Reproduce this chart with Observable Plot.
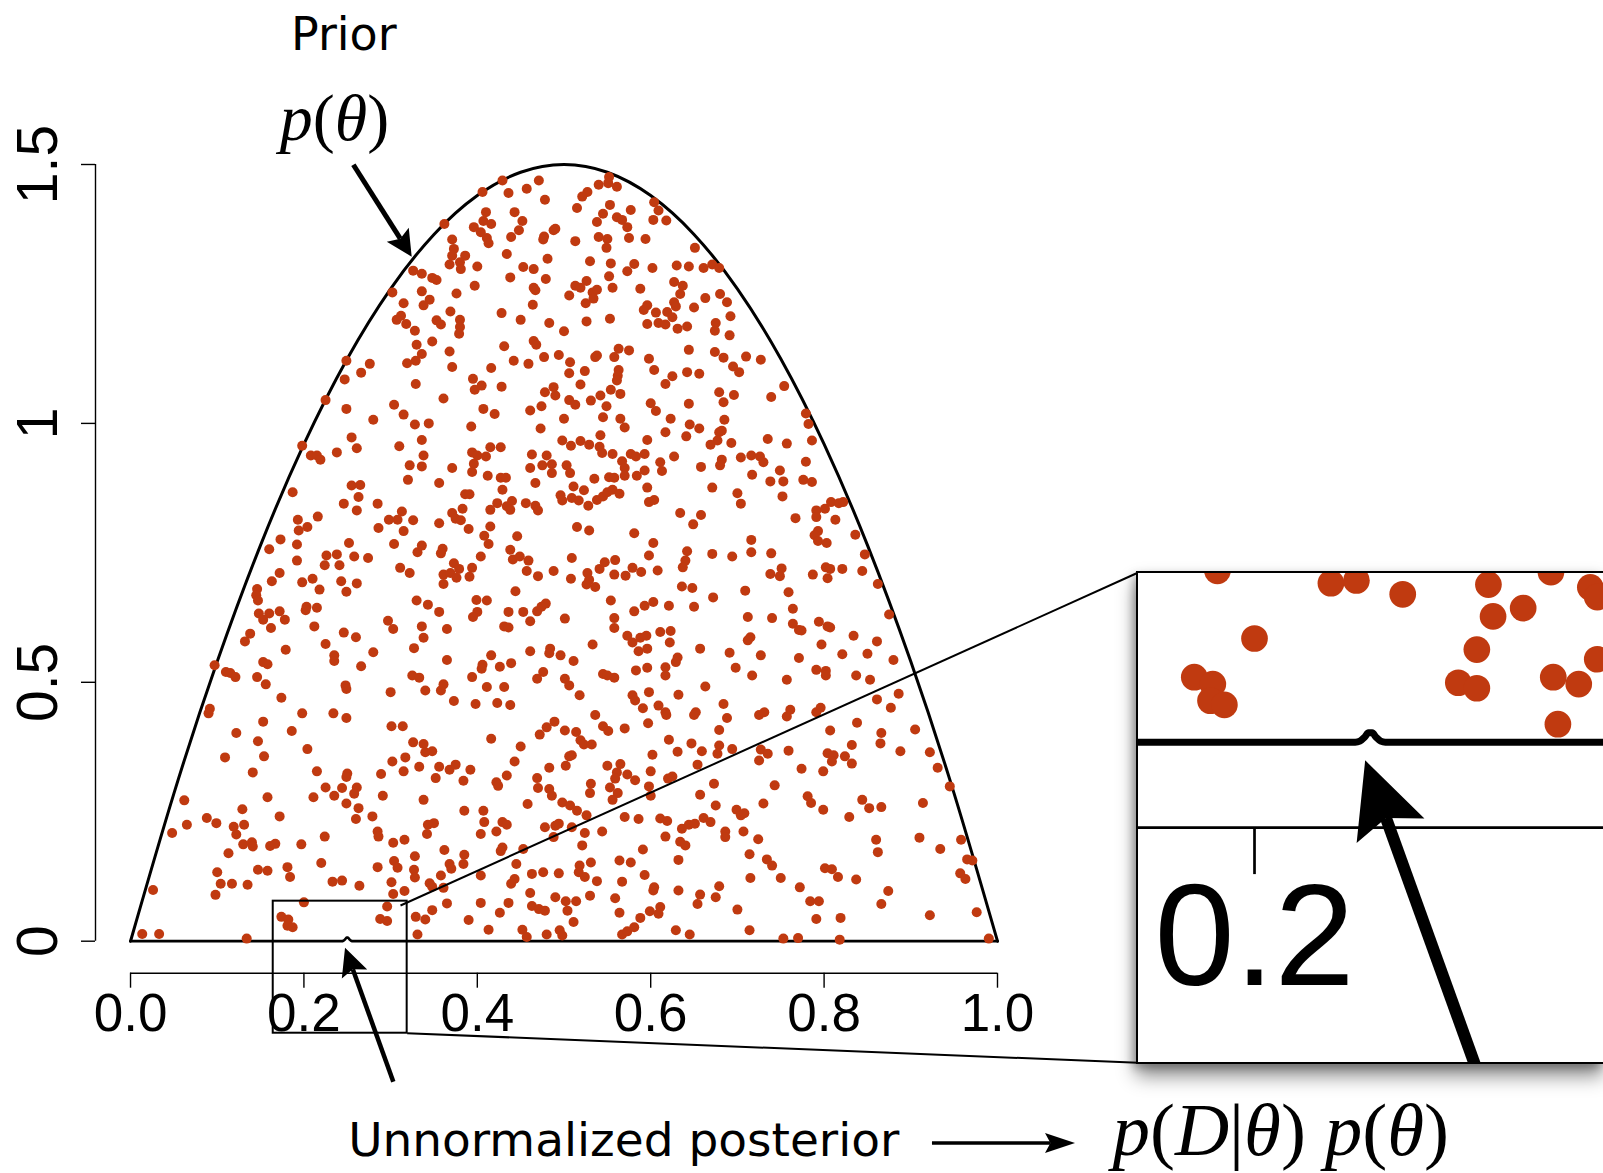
<!DOCTYPE html>
<html><head><meta charset="utf-8">
<script src="https://cdn.jsdelivr.net/npm/d3@7"></script>
<script src="https://cdn.jsdelivr.net/npm/@observablehq/plot@0.6"></script>
<style>
html,body{margin:0;padding:0;background:#fff;width:1603px;height:1173px;overflow:hidden}
#wrap{position:relative;width:1603px;height:1173px;overflow:hidden}
#main{position:absolute;left:0;top:0}
#inset{position:absolute;left:1136px;top:571px;width:465px;height:489px;border:2px solid #000;border-right:none;background:#fff;overflow:hidden;box-shadow:0 12px 18px rgba(0,0,0,0.45),-3px 4px 8px rgba(0,0,0,0.25)}
</style></head><body><div id="wrap"><div id="main"></div><div id="inset"></div></div>
<script>
// ---------- data ----------
const priorTheta   = [0,0.05,0.1,0.15,0.2,0.25,0.3,0.35,0.4,0.45,0.5,0.55,0.6,0.65,0.7,0.75,0.8,0.85,0.9,0.95,1];
const priorDensity = [0,0.285,0.54,0.765,0.96,1.125,1.26,1.365,1.44,1.485,1.5,1.485,1.44,1.365,1.26,1.125,0.96,0.765,0.54,0.285,0];
const posteriorTheta   = [0,0.2435,0.2455,0.2475,0.2492,0.2508,0.2525,0.2545,0.2565,1];
const posteriorDensity = [0,0,0.0008,0.0035,0.0068,0.0068,0.0035,0.0008,0,0];
const xTicks = [0,0.2,0.4,0.6,0.8,1];
const yTicks = [0,0.5,1,1.5];
const insetTicks = [0.2];

const samplesUpper = [[0.326,1.295],[0.302,1.253],[0.315,1.232],[0.312,1.208],[0.307,1.200],[0.318,1.192],[0.328,1.179],[0.330,1.152],[0.329,1.121],[0.319,1.116],[0.249,1.121],[0.276,1.115],[0.266,1.098],[0.247,1.085],[0.329,1.076],[0.225,1.045],[0.249,1.028],[0.304,1.036],[0.315,1.017],[0.280,1.007],
[0.429,1.469],[0.471,1.469],[0.457,1.453],[0.406,1.447],[0.436,1.445],[0.478,1.432],[0.362,1.385],[0.410,1.408],[0.443,1.408],[0.407,1.391],[0.416,1.385],[0.452,1.391],[0.396,1.379],[0.448,1.373],[0.404,1.369],[0.411,1.358],[0.439,1.360],[0.413,1.348],[0.477,1.361],[0.488,1.373],[0.490,1.376],[0.476,1.355],[0.371,1.355],[0.373,1.337],[0.371,1.324],[0.386,1.324],[0.368,1.307],[0.380,1.311],[0.381,1.298],[0.400,1.303],[0.434,1.327],[0.481,1.318],[0.453,1.302],[0.465,1.298],[0.438,1.282],[0.479,1.279],[0.348,1.281],[0.353,1.277],[0.336,1.289],[0.465,1.262],[0.467,1.257],[0.397,1.266],[0.376,1.251],[0.336,1.255],[0.345,1.239],[0.338,1.228],[0.464,1.229],[0.369,1.216],[0.428,1.213],[0.353,1.199],[0.358,1.191],[0.380,1.200],[0.380,1.186],[0.379,1.173],[0.450,1.200],[0.483,1.194],[0.500,1.178],[0.348,1.158],[0.431,1.149],[0.465,1.159],[0.468,1.152],[0.368,1.139],[0.336,1.134],[0.477,1.128],[0.494,1.132],[0.442,1.121],[0.459,1.115],[0.371,1.109],[0.416,1.107],[0.395,1.086],[0.405,1.073],[0.397,1.065],[0.428,1.071],[0.361,1.048],[0.407,1.028],[0.420,1.018],[0.461,1.025],[0.474,1.033],[0.478,1.060],[0.488,1.070],[0.490,1.054],[0.507,1.118],[0.506,1.097],[0.524,1.101],[0.519,1.075],[0.506,1.045],[0.513,1.036],[0.531,1.044],[0.536,1.128],[0.538,1.131],[0.558,1.128],[0.563,1.144],[0.575,1.141],[0.563,1.103],[0.562,1.092],[0.561,1.083],[0.554,1.065],[0.542,1.054],[0.549,1.033],[0.565,1.057],[0.545,1.012],[0.500,1.009],[0.552,1.476],[0.551,1.464],[0.540,1.461],[0.561,1.457],[0.527,1.447],[0.521,1.438],[0.515,1.416],[0.553,1.422],[0.545,1.405],[0.577,1.412],[0.561,1.398],[0.567,1.393],[0.573,1.379],[0.538,1.389],[0.540,1.360],[0.550,1.356],[0.549,1.339],[0.575,1.358],[0.513,1.352],[0.594,1.356],[0.604,1.427],[0.609,1.411],[0.603,1.393],[0.618,1.392],[0.651,1.339],[0.530,1.313],[0.554,1.309],[0.573,1.294],[0.581,1.308],[0.552,1.284],[0.602,1.300],[0.630,1.305],[0.644,1.303],[0.661,1.300],[0.526,1.275],[0.513,1.266],[0.519,1.262],[0.506,1.247],[0.533,1.253],[0.538,1.258],[0.534,1.241],[0.525,1.232],[0.556,1.262],[0.588,1.260],[0.627,1.273],[0.637,1.266],[0.634,1.250],[0.627,1.234],[0.629,1.226],[0.596,1.228],[0.592,1.219],[0.606,1.214],[0.619,1.215],[0.625,1.205],[0.650,1.224],[0.663,1.242],[0.526,1.197],[0.553,1.202],[0.596,1.192],[0.609,1.194],[0.617,1.191],[0.631,1.183],[0.642,1.187],[0.644,1.142],[0.598,1.125],[0.604,1.103],[0.642,1.099],[0.656,1.096],[0.625,1.091],[0.617,1.076],[0.600,1.039],[0.606,1.024],[0.644,1.038],[0.623,1.009],[0.565,1.009],
[0.671,1.307],[0.679,1.300],[0.680,1.250],[0.688,1.234],[0.692,1.207],[0.675,1.194],[0.674,1.179],[0.691,1.170],[0.674,1.138],[0.684,1.127],[0.710,1.129],[0.727,1.123],[0.695,1.110],[0.702,1.099],[0.679,1.060],[0.684,1.041],[0.696,1.055],[0.739,1.051],[0.754,1.072],[0.779,1.019],[0.685,1.007]];

const samplesMiddle = [[0.328,0.998],[0.255,0.973],[0.261,0.952],[0.310,0.956],[0.198,0.957],[0.208,0.938],[0.215,0.938],[0.219,0.930],[0.238,0.944],[0.322,0.919],[0.320,0.891],[0.255,0.880],[0.265,0.881],[0.263,0.858],[0.246,0.845],[0.261,0.832],[0.285,0.845],[0.187,0.867],[0.313,0.830],[0.298,0.814],[0.308,0.814],[0.326,0.813],[0.315,0.792],[0.286,0.798],[0.216,0.820],[0.193,0.814],[0.204,0.800],[0.194,0.793],[0.173,0.776],[0.160,0.757],[0.192,0.766],[0.252,0.769],[0.304,0.767],[0.331,0.751],[0.226,0.745],[0.238,0.747],[0.258,0.743],[0.274,0.740],[0.224,0.726],[0.241,0.726],[0.192,0.735],[0.311,0.721],[0.322,0.711],[0.172,0.711],[0.163,0.695],[0.198,0.693],[0.210,0.700],[0.243,0.695],[0.261,0.691],[0.218,0.679],[0.249,0.675],[0.146,0.680],[0.145,0.668],[0.147,0.658],[0.203,0.646],[0.202,0.639],[0.215,0.644],[0.330,0.658],[0.148,0.633],[0.160,0.633],[0.172,0.637],[0.153,0.621],[0.178,0.621],[0.162,0.605],[0.212,0.608],[0.297,0.619],[0.303,0.603],[0.246,0.596],[0.260,0.587],[0.138,0.594],[0.132,0.579],[0.225,0.574],[0.179,0.563],[0.235,0.552],[0.235,0.541],[0.280,0.558],[0.327,0.566],[0.153,0.539],[0.158,0.535],[0.266,0.531],[0.097,0.533],[0.110,0.520],[0.115,0.518],[0.121,0.510],[0.146,0.510],[0.325,0.513],[0.333,0.509],
[0.344,1.000],[0.393,0.994],[0.473,0.990],[0.570,0.992],[0.645,0.998],[0.656,0.990],[0.617,0.983],[0.641,0.975],[0.542,0.977],[0.596,0.968],[0.498,0.967],[0.508,0.957],[0.519,0.966],[0.529,0.959],[0.541,0.955],[0.544,0.943],[0.556,0.941],[0.336,0.968],[0.415,0.954],[0.427,0.954],[0.394,0.944],[0.400,0.938],[0.410,0.936],[0.463,0.940],[0.480,0.938],[0.577,0.941],[0.583,0.936],[0.593,0.941],[0.627,0.936],[0.611,0.925],[0.613,0.908],[0.338,0.938],[0.336,0.917],[0.371,0.914],[0.396,0.922],[0.394,0.906],[0.461,0.914],[0.475,0.919],[0.486,0.921],[0.486,0.904],[0.503,0.919],[0.507,0.904],[0.567,0.927],[0.570,0.914],[0.570,0.899],[0.593,0.909],[0.584,0.899],[0.658,0.916],[0.412,0.899],[0.427,0.895],[0.433,0.895],[0.535,0.893],[0.552,0.896],[0.558,0.895],[0.356,0.885],[0.467,0.885],[0.511,0.878],[0.523,0.871],[0.496,0.861],[0.498,0.851],[0.509,0.856],[0.517,0.851],[0.528,0.841],[0.538,0.852],[0.545,0.859],[0.550,0.867],[0.556,0.872],[0.564,0.864],[0.596,0.876],[0.598,0.848],[0.604,0.852],[0.386,0.863],[0.391,0.863],[0.429,0.872],[0.423,0.846],[0.434,0.840],[0.440,0.850],[0.438,0.833],[0.456,0.846],[0.467,0.841],[0.470,0.832],[0.415,0.833],[0.383,0.835],[0.371,0.827],[0.375,0.816],[0.381,0.813],[0.356,0.807],[0.390,0.796],[0.415,0.801],[0.408,0.783],[0.446,0.782],[0.413,0.767],[0.515,0.800],[0.529,0.793],[0.634,0.827],[0.658,0.823],[0.649,0.805],[0.581,0.788],[0.603,0.769],[0.336,0.764],[0.360,0.758],[0.358,0.749],[0.438,0.756],[0.441,0.737],[0.449,0.743],[0.459,0.735],[0.404,0.743],[0.373,0.730],[0.379,0.719],[0.394,0.721],[0.361,0.708],[0.369,0.711],[0.361,0.690],[0.376,0.702],[0.391,0.704],[0.457,0.715],[0.470,0.705],[0.488,0.715],[0.509,0.740],[0.508,0.700],[0.527,0.711],[0.529,0.698],[0.526,0.689],[0.536,0.684],[0.541,0.719],[0.547,0.732],[0.559,0.736],[0.558,0.708],[0.571,0.706],[0.579,0.721],[0.589,0.713],[0.598,0.745],[0.608,0.716],[0.642,0.753],[0.640,0.735],[0.637,0.722],[0.636,0.685],[0.648,0.682],[0.444,0.676],[0.399,0.659],[0.411,0.658],[0.343,0.650],[0.356,0.636],[0.400,0.636],[0.395,0.626],[0.436,0.636],[0.453,0.636],[0.469,0.637],[0.474,0.646],[0.479,0.652],[0.461,0.618],[0.501,0.623],[0.554,0.658],[0.558,0.624],[0.558,0.605],[0.581,0.637],[0.593,0.648],[0.603,0.655],[0.621,0.648],[0.650,0.646],[0.336,0.608],[0.338,0.586],[0.365,0.603],[0.431,0.608],[0.436,0.606],[0.573,0.590],[0.579,0.577],[0.588,0.586],[0.595,0.590],[0.586,0.560],[0.596,0.565],[0.611,0.597],[0.623,0.599],[0.622,0.577],[0.657,0.565],[0.533,0.573],[0.461,0.560],[0.484,0.565],[0.483,0.556],[0.496,0.552],[0.511,0.541],[0.416,0.552],[0.406,0.534],[0.405,0.526],[0.426,0.530],[0.439,0.537],[0.365,0.543],[0.476,0.520],[0.469,0.507],[0.394,0.510],[0.545,0.516],[0.550,0.513],[0.558,0.509],[0.583,0.523],[0.596,0.528],[0.617,0.529],[0.617,0.513],[0.631,0.548],[0.629,0.539],[0.501,0.507],
[0.782,0.999],[0.679,0.983],[0.682,0.986],[0.677,0.967],[0.669,0.959],[0.693,0.962],[0.735,0.970],[0.757,0.961],[0.786,0.967],[0.704,0.934],[0.716,0.938],[0.726,0.936],[0.730,0.925],[0.682,0.930],[0.680,0.919],[0.779,0.926],[0.749,0.909],[0.717,0.901],[0.738,0.888],[0.753,0.888],[0.776,0.891],[0.786,0.887],[0.671,0.876],[0.700,0.865],[0.704,0.845],[0.752,0.859],[0.791,0.832],[0.791,0.819],[0.801,0.835],[0.808,0.848],[0.817,0.846],[0.822,0.848],[0.767,0.817],[0.813,0.814],[0.793,0.792],[0.789,0.784],[0.793,0.773],[0.803,0.769],[0.836,0.785],[0.716,0.775],[0.716,0.751],[0.739,0.749],[0.671,0.748],[0.694,0.743],[0.847,0.747],[0.751,0.720],[0.738,0.709],[0.749,0.705],[0.802,0.722],[0.807,0.719],[0.821,0.719],[0.787,0.708],[0.804,0.701],[0.844,0.715],[0.862,0.690],[0.709,0.677],[0.759,0.674],[0.672,0.664],[0.764,0.642],[0.875,0.631],[0.712,0.626],[0.740,0.624],[0.764,0.613],[0.771,0.601],[0.774,0.600],[0.794,0.617],[0.804,0.608],[0.807,0.606],[0.834,0.590],[0.861,0.579],[0.715,0.587],[0.712,0.581],[0.691,0.557],[0.727,0.552],[0.771,0.547],[0.797,0.573],[0.821,0.554],[0.850,0.555],[0.880,0.543],[0.698,0.528],[0.717,0.513],[0.791,0.524],[0.802,0.522],[0.802,0.513],[0.837,0.513],[0.757,0.505],[0.853,0.505]];

const samplesLower = [[0.156,0.496],[0.248,0.494],[0.249,0.487],[0.300,0.481],[0.174,0.470],[0.0915,0.449],[0.090,0.440],[0.198,0.440],[0.234,0.440],[0.249,0.431],[0.153,0.424],[0.122,0.402],[0.186,0.406],[0.301,0.415],[0.314,0.415],[0.147,0.386],[0.204,0.371],[0.109,0.355],[0.154,0.357],[0.326,0.384],[0.317,0.355],[0.302,0.347],[0.333,0.337],[0.141,0.326],[0.215,0.328],[0.250,0.324],[0.249,0.317],[0.289,0.323],[0.315,0.328],[0.062,0.272],[0.158,0.278],[0.211,0.278],[0.225,0.297],[0.235,0.281],[0.244,0.296],[0.261,0.297],[0.258,0.285],[0.249,0.266],[0.263,0.257],[0.291,0.281],[0.129,0.255],[0.172,0.241],[0.279,0.241],[0.260,0.236],[0.088,0.238],[0.099,0.228],[0.119,0.221],[0.131,0.225],[0.065,0.225],[0.048,0.209],[0.122,0.206],[0.285,0.212],[0.286,0.202],[0.224,0.202],[0.130,0.187],[0.140,0.191],[0.141,0.183],[0.161,0.184],[0.167,0.188],[0.197,0.187],[0.303,0.190],[0.316,0.196],[0.113,0.170],[0.328,0.164],[0.220,0.151],[0.304,0.155],[0.308,0.142],[0.285,0.143],[0.327,0.138],[0.147,0.138],[0.158,0.136],[0.181,0.143],[0.100,0.133],[0.104,0.111],[0.117,0.111],[0.135,0.109],[0.026,0.099],[0.098,0.0895],[0.0135,0.014],[0.033,0.014],[0.134,0.005],
[0.340,0.484],[0.358,0.484],[0.361,0.496],[0.411,0.491],[0.431,0.491],[0.506,0.494],[0.663,0.492],[0.518,0.475],[0.579,0.475],[0.582,0.465],[0.598,0.481],[0.632,0.476],[0.373,0.464],[0.398,0.458],[0.423,0.460],[0.438,0.456],[0.591,0.450],[0.609,0.455],[0.617,0.442],[0.618,0.437],[0.652,0.442],[0.650,0.437],[0.536,0.437],[0.489,0.424],[0.480,0.413],[0.472,0.399],[0.501,0.407],[0.514,0.404],[0.545,0.415],[0.551,0.406],[0.570,0.411],[0.597,0.421],[0.416,0.391],[0.519,0.388],[0.523,0.380],[0.532,0.380],[0.621,0.389],[0.647,0.382],[0.659,0.367],[0.631,0.366],[0.338,0.381],[0.340,0.365],[0.348,0.367],[0.450,0.376],[0.509,0.359],[0.506,0.357],[0.602,0.360],[0.443,0.347],[0.483,0.335],[0.502,0.339],[0.550,0.339],[0.565,0.342],[0.561,0.326],[0.573,0.322],[0.559,0.314],[0.582,0.311],[0.600,0.328],[0.620,0.314],[0.625,0.318],[0.654,0.341],[0.356,0.337],[0.368,0.331],[0.375,0.341],[0.392,0.331],[0.352,0.315],[0.384,0.310],[0.422,0.307],[0.424,0.300],[0.434,0.320],[0.469,0.315],[0.531,0.304],[0.530,0.286],[0.553,0.297],[0.562,0.286],[0.556,0.273],[0.598,0.299],[0.600,0.281],[0.470,0.296],[0.483,0.294],[0.486,0.281],[0.657,0.283],[0.338,0.273],[0.458,0.265],[0.498,0.268],[0.507,0.262],[0.515,0.252],[0.526,0.243],[0.570,0.240],[0.586,0.236],[0.611,0.237],[0.619,0.232],[0.661,0.238],[0.636,0.217],[0.644,0.225],[0.651,0.227],[0.385,0.252],[0.407,0.252],[0.408,0.230],[0.404,0.207],[0.422,0.212],[0.429,0.230],[0.434,0.225],[0.343,0.225],[0.350,0.228],[0.342,0.207],[0.478,0.220],[0.490,0.223],[0.494,0.227],[0.509,0.220],[0.488,0.201],[0.524,0.209],[0.544,0.212],[0.617,0.202],[0.521,0.185],[0.591,0.177],[0.634,0.192],[0.640,0.185],[0.362,0.176],[0.385,0.167],[0.384,0.149],[0.368,0.149],[0.370,0.140],[0.429,0.181],[0.427,0.174],[0.453,0.178],[0.445,0.149],[0.564,0.156],[0.577,0.152],[0.531,0.152],[0.518,0.146],[0.517,0.133],[0.524,0.124],[0.538,0.116],[0.593,0.128],[0.632,0.157],[0.358,0.127],[0.361,0.103],[0.404,0.127],[0.443,0.120],[0.439,0.111],[0.463,0.130],[0.476,0.133],[0.494,0.131],[0.567,0.115],[0.604,0.104],[0.603,0.098],[0.632,0.098],[0.461,0.093],[0.490,0.085],[0.502,0.077],[0.514,0.077],[0.504,0.059],[0.530,0.088],[0.559,0.083],[0.657,0.090],[0.654,0.072],[0.365,0.073],[0.404,0.074],[0.436,0.074],[0.463,0.068],[0.471,0.062],[0.478,0.059],[0.564,0.055],[0.599,0.058],[0.611,0.066],[0.609,0.053],[0.588,0.045],[0.390,0.041],[0.426,0.055],[0.511,0.037],[0.413,0.022],[0.452,0.022],[0.457,0.008],[0.480,0.013],[0.495,0.021],[0.498,0.011],[0.567,0.013],[0.573,0.019],[0.581,0.027],[0.629,0.021],[0.645,0.013],
[0.684,0.458],[0.688,0.431],[0.725,0.437],[0.731,0.442],[0.757,0.434],[0.761,0.447],[0.791,0.442],[0.796,0.451],[0.861,0.467],[0.877,0.451],[0.886,0.478],[0.838,0.422],[0.807,0.407],[0.866,0.402],[0.865,0.382],[0.905,0.409],[0.832,0.379],[0.888,0.367],[0.922,0.365],[0.679,0.408],[0.679,0.378],[0.677,0.362],[0.694,0.371],[0.727,0.370],[0.735,0.362],[0.725,0.349],[0.759,0.368],[0.804,0.363],[0.811,0.359],[0.809,0.347],[0.824,0.357],[0.832,0.343],[0.774,0.333],[0.799,0.328],[0.931,0.335],[0.945,0.299],[0.673,0.304],[0.743,0.301],[0.675,0.262],[0.730,0.266],[0.781,0.280],[0.785,0.267],[0.799,0.254],[0.844,0.273],[0.852,0.257],[0.866,0.259],[0.914,0.267],[0.829,0.240],[0.699,0.254],[0.704,0.243],[0.708,0.247],[0.669,0.230],[0.686,0.212],[0.686,0.201],[0.707,0.212],[0.724,0.197],[0.860,0.196],[0.862,0.172],[0.910,0.200],[0.934,0.178],[0.958,0.196],[0.714,0.168],[0.734,0.158],[0.740,0.146],[0.965,0.158],[0.971,0.156],[0.957,0.131],[0.963,0.120],[0.801,0.141],[0.809,0.139],[0.816,0.124],[0.837,0.119],[0.715,0.122],[0.750,0.122],[0.679,0.106],[0.675,0.085],[0.772,0.104],[0.874,0.097],[0.784,0.077],[0.794,0.077],[0.866,0.072],[0.700,0.061],[0.922,0.050],[0.976,0.056],[0.791,0.043],[0.819,0.045],[0.714,0.021],[0.753,0.005],[0.770,0.006],[0.818,0.003],[0.990,0.005]];

const samplesZoomed = [[0.174,0.047],[0.182,0.042],[0.181,0.030],[0.187,0.027],[0.200,0.075],[0.233,0.115],[0.244,0.117],[0.264,0.107],[0.301,0.114],[0.303,0.091],[0.316,0.097],[0.296,0.067],[0.288,0.043],[0.296,0.039],[0.329,0.047],[0.340,0.042],[0.331,0.013],[0.348,0.060],[0.345,0.112],[0.348,0.105],[0.184,0.124],[0.328,0.123]];

// ---------- layout / styling ----------
const dotColor = "#c03a10";
const sans = "Liberation Sans, Arial, Helvetica, sans-serif";
const labelFont = "DejaVu Sans, Verdana, sans-serif";
const mathFont = "Liberation Serif, Times New Roman, serif";
const xDomain = [-0.0404, 1.699];
const yDomain = [-0.0618, 1.5];
const zoomBox = {x1: 0.1646, x2: 0.3191, y1: -0.1777, y2: 0.0773};
const connectors = [
  {x1: 0.3114, y1: 0.069, x2: 1.1618, y2: 0.7115},
  {x1: 0.3191, y1: -0.1777, x2: 1.1618, y2: -0.2348}
];
const arrows = [
  {from: [0.2576, 1.4986], to: [0.3249, 1.321], headLength: 26, headWidth: 13, shaft: 5},
  {from: [0.925, -0.3905], to: [1.09, -0.3905], headLength: 30, headWidth: 10, shaft: 3.5}
];
const posteriorArrow = {from: [0.3037, -0.2723], to: [0.248, -0.0135], headLength: 28, headWidth: 13.5, shaft: 4.5};
const priorLabel = {x: 0.246, y: 1.7202, text: "Prior", size: 46};
const posteriorLabel = {x: 0.251, y: -0.4139, text: "Unnormalized posterior", size: 47};
const priorMath = {x: 0.2353, y: 1.5464, text: "p(θ)", size: 66};
const posteriorMath = {x: 1.1326, y: -0.4125, text: "p(D|θ) p(θ)", size: 75};
const zoomFactor = 2.67;
const insetX = [0.14991, 0.35069];
const insetY = [yDomain[0], 0.12203];

const allSamples = samplesUpper.concat(samplesMiddle, samplesLower, samplesZoomed);
const prior = priorTheta.map((t, i) => ({t, p: priorDensity[i]}));
const posterior = posteriorTheta.map((t, i) => ({t, p: posteriorDensity[i]}));

function arrowMark(list, k = 1) {
  return (index, scales) => {
    const g = d3.create("svg:g");
    for (const a of list) {
      const x1 = scales.x(a.from[0]), y1 = scales.y(a.from[1]);
      const x2 = scales.x(a.to[0]), y2 = scales.y(a.to[1]);
      const L = Math.hypot(x2 - x1, y2 - y1), ux = (x2 - x1) / L, uy = (y2 - y1) / L;
      const hl = a.headLength * k, hw = a.headWidth * k, sw = a.shaft * k;
      const bx = x2 - ux * hl, by = y2 - uy * hl;
      const nx = x2 - ux * hl * 0.82, ny = y2 - uy * hl * 0.82;
      g.append("line").attr("x1", x1).attr("y1", y1).attr("x2", nx).attr("y2", ny)
        .attr("stroke", "#000").attr("stroke-width", sw);
      g.append("path").attr("d", `M${x2},${y2}L${bx - uy * hw},${by + ux * hw}L${nx},${ny}L${bx + uy * hw},${by - ux * hw}Z`)
        .attr("fill", "#000");
    }
    return g.node();
  };
}

function styleMath(svg) {
  d3.select(svg).selectAll("text").each(function () {
    const s = this.textContent;
    if (!s.includes("θ")) return;
    this.textContent = "";
    for (const ch of s) {
      const t = d3.select(this).append("tspan").text(ch);
      if (/[A-Za-zθ]/.test(ch)) t.attr("font-style", "italic");
    }
  });
}

function label(d, anchor, font) {
  return Plot.text([d], {x: "x", y: "y", text: "text", textAnchor: anchor, lineAnchor: "bottom", fontSize: d.size, fontFamily: font});
}

const main = Plot.plot({
  width: 1603, height: 1173,
  marginLeft: 95, marginRight: 0, marginTop: 164, marginBottom: 200.3,
  x: {domain: xDomain}, y: {domain: yDomain},
  style: {fontFamily: sans, background: "transparent", overflow: "visible"},
  marks: [
    Plot.line(prior, {x: "t", y: "p", curve: "natural", stroke: "#000", strokeWidth: 3}),
    Plot.line(posterior, {x: "t", y: "p", curve: "monotone-x", stroke: "#000", strokeWidth: 2.7}),
    Plot.dot(allSamples, {x: d => d[0], y: d => d[1], r: 5, fill: dotColor}),
    Plot.ruleY([yDomain[0]], {x1: xTicks[0], x2: xTicks[xTicks.length - 1], stroke: "#000", strokeWidth: 1.4}),
    Plot.axisX({ticks: xTicks, tickSize: 15, tickPadding: 5, fontSize: 53, tickFormat: d3.format(".1f"), strokeWidth: 1.4, label: null, fontFamily: sans}),
    Plot.ruleX([xDomain[0]], {y1: yTicks[0], y2: yTicks[yTicks.length - 1], stroke: "#000", strokeWidth: 1.4}),
    Plot.axisY({ticks: yTicks, tickSize: 14, tickFormat: () => "", strokeWidth: 1.4, label: null}),
    Plot.text(yTicks, {y: d => d, text: d => String(d), frameAnchor: "left", dx: -39, rotate: -90, textAnchor: "middle", lineAnchor: "bottom", fontSize: 57, fontFamily: sans}),
    Plot.rect([zoomBox], {x1: "x1", x2: "x2", y1: "y1", y2: "y2", fill: "none", stroke: "#000", strokeWidth: 2}),
    Plot.link(connectors, {x1: "x1", y1: "y1", x2: "x2", y2: "y2", stroke: "#000", strokeWidth: 2}),
    arrowMark(arrows),
    arrowMark([posteriorArrow]),
    label(priorLabel, "middle", labelFont),
    label(posteriorLabel, "start", labelFont),
    label(priorMath, "middle", mathFont),
    label(posteriorMath, "start", mathFont)
  ]
});
styleMath(main);
document.getElementById("main").appendChild(main);

const inset = Plot.plot({
  width: 465, height: 489,
  marginLeft: 0, marginRight: 0, marginTop: 0, marginBottom: 489 - 254.1,
  x: {domain: insetX}, y: {domain: insetY, axis: null},
  style: {fontFamily: sans, background: "#fff", overflow: "hidden"},
  marks: [
    Plot.line(posterior, {x: "t", y: "p", curve: "monotone-x", stroke: "#000", strokeWidth: 7}),
    Plot.dot(allSamples, {x: d => d[0], y: d => d[1], r: 5 * zoomFactor, fill: dotColor}),
    Plot.ruleY([insetY[0]], {stroke: "#000", strokeWidth: 2.7}),
    Plot.axisX({ticks: insetTicks, tickSize: 47, tickPadding: 8, fontSize: 144, tickFormat: d3.format(".1f"), strokeWidth: 2.7, label: null, fontFamily: sans}),
    arrowMark([posteriorArrow], zoomFactor)
  ]
});
document.getElementById("inset").appendChild(inset);
</script></body></html>
